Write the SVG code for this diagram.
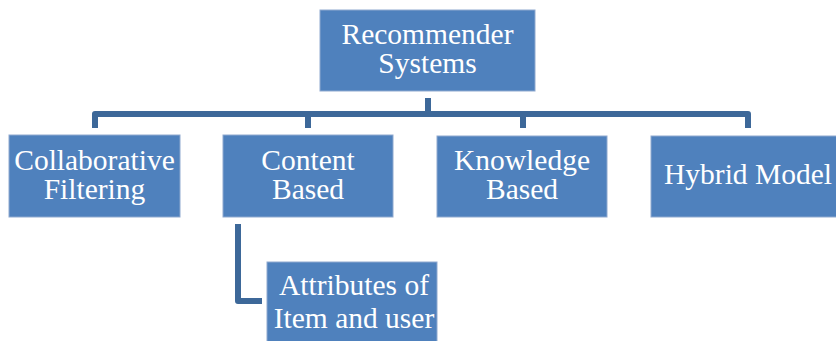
<svg xmlns="http://www.w3.org/2000/svg" width="836" height="341" viewBox="0 0 836 341">
  <style>
    .box { fill: #4f81bd; stroke: #8fa9cf; stroke-width: 1; }
    .lbl { font-size: 29.5px; fill: #ffffff; text-anchor: middle; }
    .wire { fill: none; stroke: #3d6899; stroke-width: 6; stroke-linejoin: round; stroke-linecap: butt; }
  </style>
  <rect width="836" height="341" fill="#ffffff"/>

  <!-- hierarchy connectors -->
  <g id="connectors">
    <path class="wire" d="M428 98 V114"/>
    <path class="wire" d="M95 128 V114 H748 V128"/>
    <path class="wire" d="M308 114 V128"/>
    <path class="wire" d="M523 114 V128"/>
    <path class="wire" d="M238 224 V301 H262"/>
  </g>

  <g font-family="Liberation Serif, Times New Roman, DejaVu Serif, serif">
    <g id="recommender-systems">
      <rect class="box" x="320" y="10" width="215" height="81"/>
      <text class="lbl" x="427.5" y="44">Recommender</text>
      <text class="lbl" x="427.5" y="73">Systems</text>
    </g>

    <g id="collaborative-filtering">
      <rect class="box" x="9" y="135" width="171" height="82"/>
      <text class="lbl" x="94.5" y="170">Collaborative</text>
      <text class="lbl" x="94.5" y="199">Filtering</text>
    </g>

    <g id="content-based">
      <rect class="box" x="223" y="135" width="170" height="82"/>
      <text class="lbl" x="308" y="170">Content</text>
      <text class="lbl" x="308" y="199">Based</text>
    </g>

    <g id="knowledge-based">
      <rect class="box" x="437" y="136" width="170" height="81"/>
      <text class="lbl" x="522" y="170">Knowledge</text>
      <text class="lbl" x="522" y="199">Based</text>
    </g>

    <g id="hybrid-model">
      <rect class="box" x="651" y="136" width="190" height="81"/>
      <text class="lbl" x="748" y="184">Hybrid Model</text>
    </g>

    <g id="attributes">
      <rect class="box" x="267" y="262" width="170" height="90"/>
      <text class="lbl" x="354" y="295">Attributes of</text>
      <text class="lbl" x="354" y="328">Item and user</text>
    </g>
  </g>
</svg>
